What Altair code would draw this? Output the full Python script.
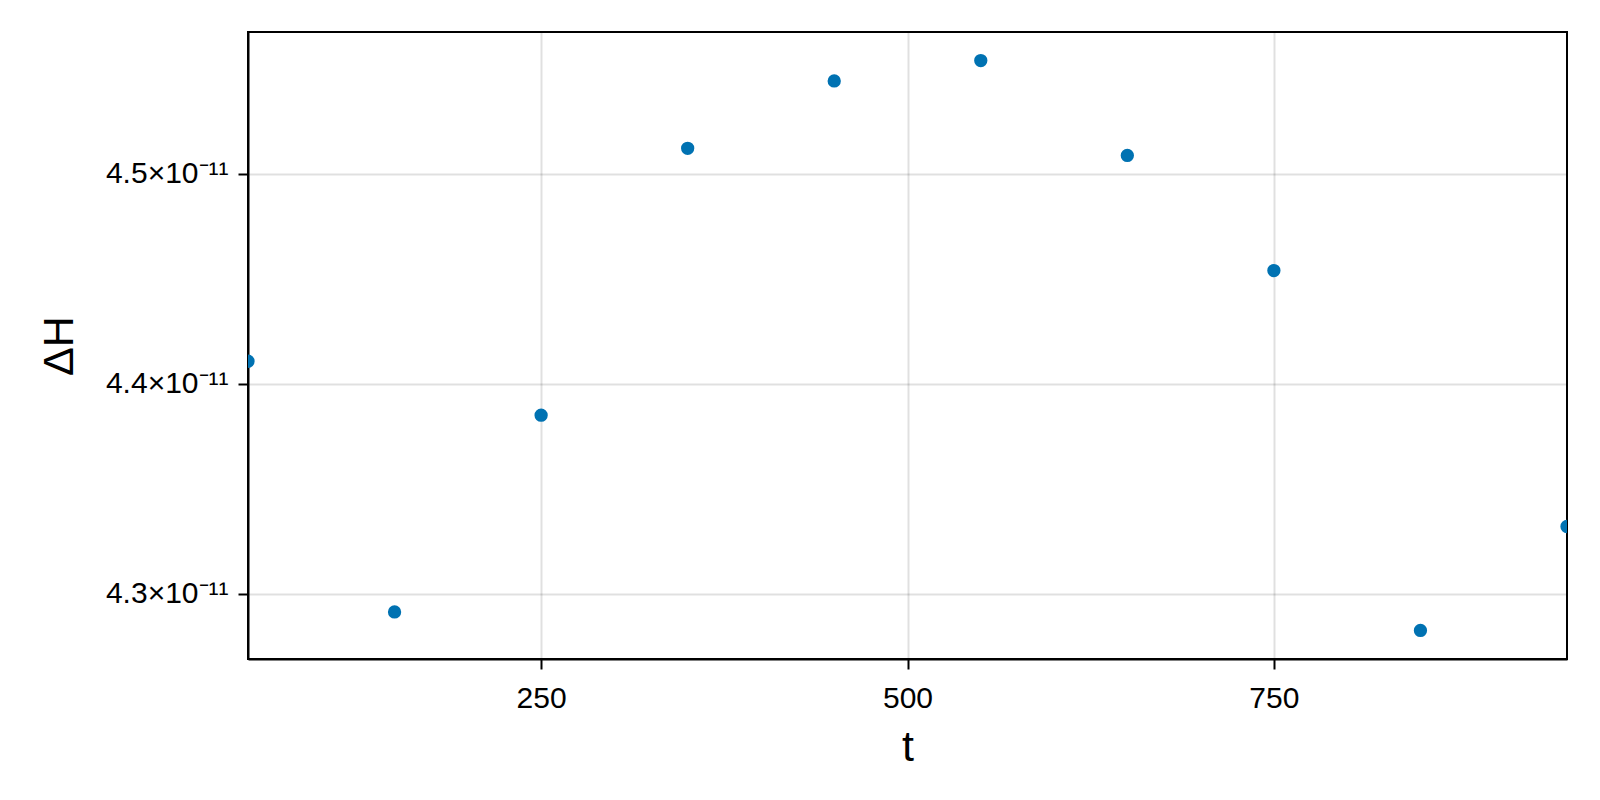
import altair as alt
import pandas as pd

t_values = [50, 150, 250, 350, 450, 550, 650, 750, 850, 950]
dH_values = [4.4107e-11, 4.2913e-11, 4.3850e-11, 4.5121e-11, 4.5442e-11,
             4.5539e-11, 4.5087e-11, 4.4539e-11, 4.2825e-11, 4.3320e-11]
x_ticks = [250, 500, 750]
y_ticks = [4.3e-11, 4.4e-11, 4.5e-11]
x_domain = [50, 950]
y_domain = [4.2689e-11, 4.5675e-11]

df = pd.DataFrame({"t": t_values, "dH": dH_values})

FONT = "Liberation Sans"
W, H = 1319, 627

chart = (
    alt.Chart(df)
    .mark_circle(size=177, color="#0072B2", opacity=1, clip=True)
    .encode(
        x=alt.X(
            "t:Q",
            scale=alt.Scale(domain=x_domain, nice=False, zero=False),
            axis=alt.Axis(
                values=x_ticks,
                title="t",
                titleFontSize=43,
                titleFontWeight="normal",
                titleFont=FONT,
                titleColor="black",
                titleX=W / 2,
                titleY=101,
                titleBaseline="alphabetic",
                labelFontSize=30,
                labelFont=FONT,
                labelColor="black",
                labelPadding=14,
                tickSize=10,
                tickWidth=2,
                tickColor="black",
                domainColor="black",
                domainWidth=2,
                gridColor="#000000",
                gridOpacity=0.12,
                gridWidth=2,
                format="d",
            ),
        ),
        y=alt.Y(
            "dH:Q",
            scale=alt.Scale(domain=y_domain, nice=False, zero=False),
            axis=alt.Axis(
                values=y_ticks,
                title="ΔH",
                titleFontSize=43,
                titleFontWeight="normal",
                titleFont=FONT,
                titleColor="black",
                titleAngle=270,
                titleX=-176,
                titleY=H / 2,
                titleAlign="center",
                titleBaseline="alphabetic",
                labelFontSize=30,
                labelFont=FONT,
                labelColor="black",
                labelPadding=10,
                labelExpr="format(datum.value * 1e11, '.1f') + '×10⁻¹¹'",
                tickSize=10,
                tickWidth=2,
                tickColor="black",
                domainColor="black",
                domainWidth=2,
                gridColor="#000000",
                gridOpacity=0.12,
                gridWidth=2,
            ),
        ),
    )
    .properties(
        width=W,
        height=H,
        autosize=alt.AutoSizeParams(type="none"),
        padding={"left": 240, "top": 24, "right": 25, "bottom": 133},
        background="white",
    )
    .configure_view(stroke="black", strokeWidth=2)
)

chart.save("out.html", embed_options={"renderer": "svg", "actions": False})
